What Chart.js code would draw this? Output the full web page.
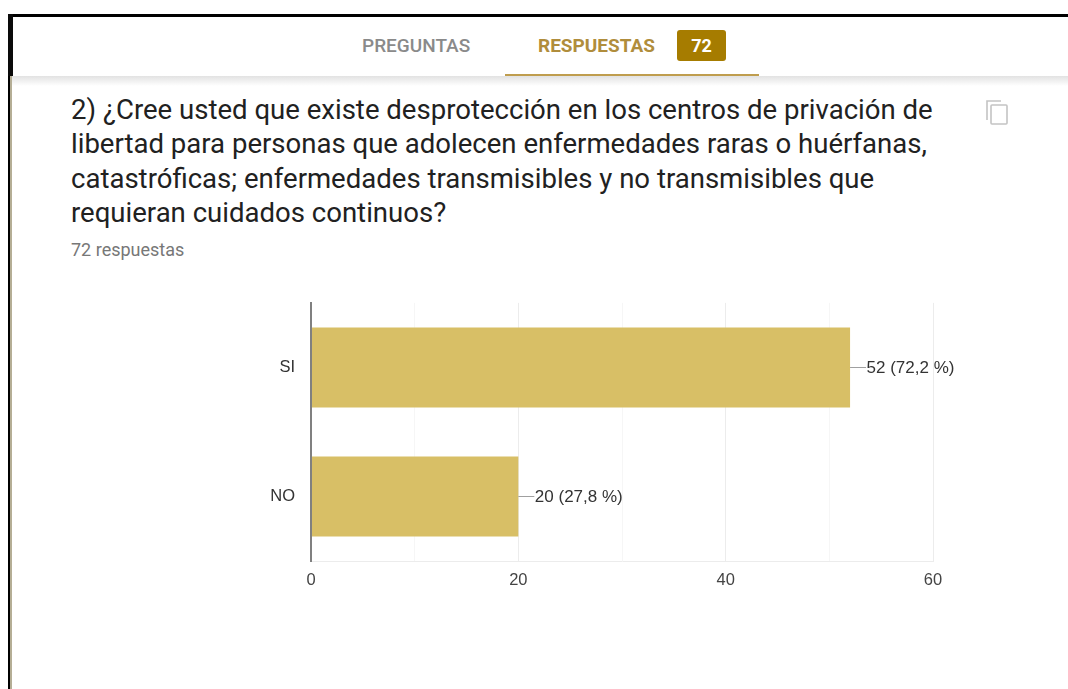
<!DOCTYPE html>
<html lang="es">
<head>
    <meta charset="UTF-8">
    <title>Respuestas</title>
    <script src="https://cdn.jsdelivr.net/npm/chart.js"></script>
    <style>
        html, body {
            margin: 0;
            width: 1068px;
            height: 689px;
            overflow: hidden;
            background: #fff;
            font-family: Roboto, sans-serif;
        }

        .abs { position: absolute; white-space: nowrap; }

        #borderTop { left: 8px; top: 14px; width: 1060px; height: 3px; background: #000; }
        #borderLeftHead { left: 8px; top: 14px; width: 5px; height: 62px; background: #0a0a0a; }
        #borderLeft { left: 8px; top: 76px; width: 2px; height: 613px; background: #000; }
        #borderLeftTan { left: 10px; top: 76px; width: 2px; height: 613px; background: #b5ae95; }

        #headerShadow {
            left: 12px; top: 76px; width: 1056px; height: 10px;
            background: linear-gradient(#e2e2e2, #fff);
        }
        #tabUnderline { left: 505px; top: 74px; width: 254px; height: 2px; background: #bf9d4e; }

        .tab { top: 36px; font-size: 19px; font-weight: 500; line-height: 19px; }
        #tabQuestions { left: 362px; color: #8a8a8a; }
        #tabAnswers { left: 538px; color: #b08d3c; font-weight: 700; }
        #badge {
            left: 677px; top: 30px; width: 49px; height: 31px;
            background: #a67c00; border-radius: 3px;
            color: #fff; font-size: 18px; font-weight: 700;
            line-height: 31px; text-align: center;
        }

        #question {
            left: 71px; top: 93px;
            font-size: 27.55px; line-height: 34.3px; color: #212121;
        }
        #count { left: 71px; top: 240px; font-size: 18px; line-height: 20px; color: #777; }
        #copyIcon { left: 985px; top: 99px; }

        #chartBox { left: 230px; top: 285px; width: 760px; height: 324px; }
    </style>
</head>
<body>
    <div class="abs" id="headerShadow"></div>
    <div class="abs" id="borderTop"></div>
    <div class="abs" id="borderLeftHead"></div>
    <div class="abs" id="borderLeft"></div>
    <div class="abs" id="borderLeftTan"></div>

    <div class="abs tab" id="tabQuestions">PREGUNTAS</div>
    <div class="abs tab" id="tabAnswers">RESPUESTAS</div>
    <div class="abs" id="badge">72</div>
    <div class="abs" id="tabUnderline"></div>

    <div class="abs" id="question">2) ¿Cree usted que existe desprotección en los centros de privación de<br>libertad para personas que adolecen enfermedades raras o huérfanas,<br>catastróficas; enfermedades transmisibles y no transmisibles que<br>requieran cuidados continuos?</div>
    <div class="abs" id="count">72 respuestas</div>

    <svg class="abs" id="copyIcon" width="24" height="26" viewBox="0 0 24 26" fill="none" stroke="#c4c4c4" stroke-width="1.6">
        <path d="M2 21V2h14"/>
        <rect x="6" y="6" width="16" height="19" rx="1"/>
    </svg>

    <div class="abs" id="chartBox"><canvas id="barChart"></canvas></div>

    <script>
        const categories = ['SI', 'NO'];
        const answers = [52, 20];
        const percents = ['72,2', '27,8'];
        const xMax = 60;
        const xStep = 10;
        const labelledStep = 20;

        // leader line and "n (p %)" text at the end of each bar
        const barLabels = {
            id: 'barLabels',
            afterDatasetsDraw(chart) {
                const c = chart.ctx;
                const bars = chart.getDatasetMeta(0).data;
                c.save();
                c.font = '17px "Liberation Sans"';
                c.textBaseline = 'middle';
                bars.forEach((bar, i) => {
                    c.strokeStyle = '#a0a0a0';
                    c.lineWidth = 1;
                    c.beginPath();
                    c.moveTo(bar.x, Math.round(bar.y) + 0.5);
                    c.lineTo(bar.x + 16, Math.round(bar.y) + 0.5);
                    c.stroke();
                    c.fillStyle = '#333333';
                    c.fillText(answers[i] + ' (' + percents[i] + ' %)', bar.x + 16.5, bar.y + 1);
                });
                c.restore();
            }
        };

        new Chart(document.getElementById('barChart'), {
            type: 'bar',
            data: {
                labels: categories,
                datasets: [{
                    data: answers,
                    backgroundColor: '#d8bf66',
                    categoryPercentage: 0.62,
                    barPercentage: 1
                }]
            },
            plugins: [barLabels],
            options: {
                indexAxis: 'y',
                responsive: true,
                maintainAspectRatio: false,
                animation: false,
                layout: { padding: { top: 0, right: 57, bottom: 8, left: 0 } },
                plugins: { legend: { display: false }, tooltip: { enabled: false } },
                scales: {
                    x: {
                        min: 0,
                        max: xMax,
                        afterFit(scale) { scale.height = 40; },
                        grid: {
                            drawTicks: false,
                            color: ctx => ctx.tick && ctx.tick.value % labelledStep === 0 ? '#ececec' : '#f6f6f6'
                        },
                        border: { color: '#ececec' },
                        ticks: {
                            stepSize: xStep,
                            autoSkip: false,
                            maxRotation: 0,
                            padding: 10,
                            color: '#444444',
                            font: { family: '"Liberation Sans"', size: 16.5 },
                            callback: v => v % labelledStep === 0 ? v : ''
                        }
                    },
                    y: {
                        afterFit(scale) { scale.width = 81; },
                        grid: { display: false },
                        border: { color: '#808080', width: 2, z: 1 },
                        ticks: {
                            padding: 8,
                            color: '#333333',
                            font: { family: '"Liberation Sans"', size: 16.5 }
                        }
                    }
                }
            }
        });
    </script>
</body>
</html>
